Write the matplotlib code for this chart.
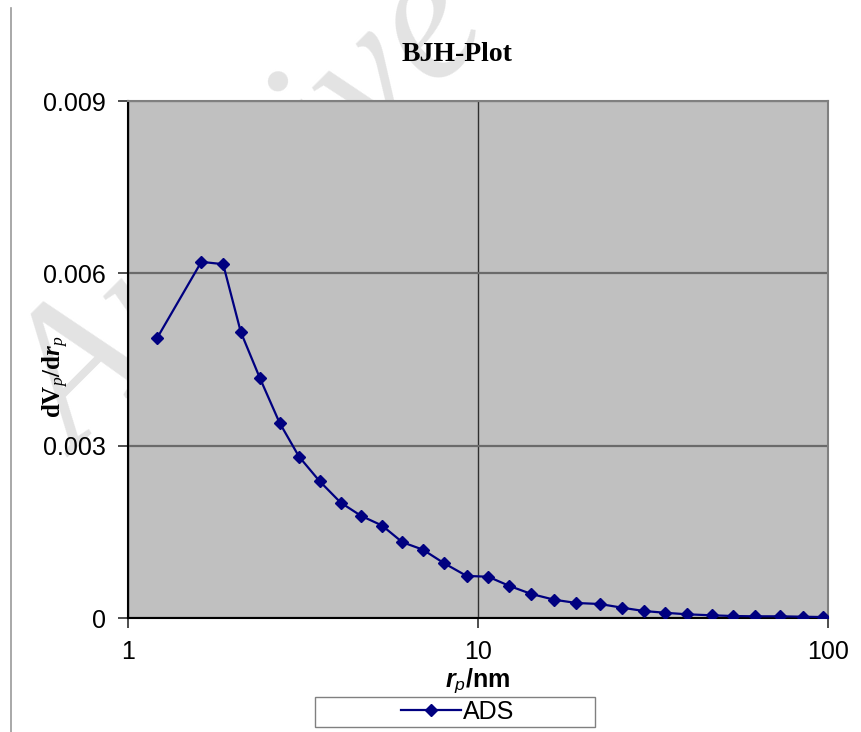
import matplotlib
matplotlib.use("Agg")
import matplotlib.pyplot as plt
from matplotlib.lines import Line2D
from matplotlib.patches import Rectangle
import matplotlib.ticker as mticker

# ── Data ────────────────────────────────────────────────────────────────────
r_p = [1.21, 1.62, 1.87, 2.10, 2.38, 2.71, 3.08, 3.53, 4.05, 4.63, 5.32,
       6.08, 6.96, 8.00, 9.28, 10.7, 12.3, 14.2, 16.5, 19.1, 22.3, 25.8,
       29.8, 34.2, 39.5, 46.6, 53.7, 61.7, 72.8, 84.8, 96.8]
dv_dr = [0.00487, 0.00620, 0.00616, 0.00498, 0.00418, 0.00340, 0.00281,
         0.00238, 0.00201, 0.00178, 0.00161, 0.00132, 0.00119, 0.000954,
         0.000733, 0.000719, 0.000558, 0.000419, 0.000319, 0.000262,
         0.000244, 0.000180, 0.000122, 0.000092, 0.000065, 0.000047,
         0.000035, 0.000030, 0.000030, 0.000023, 0.000017]
x_ticks = [1, 10, 100]
y_ticks = [0, 0.003, 0.006, 0.009]
y_tick_labels = ["0", "0.003", "0.006", "0.009"]
series_name = "ADS"

# serif slots for the y label, sans slots (sf/tt) for the x label
plt.rcParams.update({
    "font.family": ["Liberation Sans", "DejaVu Sans"],
    "mathtext.fontset": "custom",
    "mathtext.rm": "Liberation Serif",
    "mathtext.it": "Liberation Serif:italic",
    "mathtext.bf": "Liberation Serif:bold",
    "mathtext.bfit": "Liberation Serif:bold:italic",
    "mathtext.sf": "Liberation Sans:bold:italic",
    "mathtext.tt": "Liberation Sans:italic",
})

fig = plt.figure(figsize=(8.62, 7.32), dpi=100)
ax = fig.add_axes([0.1485, 0.1557, 0.812, 0.7063])

# faint watermark behind everything
fig.text(0.296, 0.706, "Archive", rotation=45, rotation_mode="anchor",
         ha="center", va="center", fontsize=139, fontstyle="italic",
         family="Liberation Serif", color="#e3e3e3", zorder=-5)

# page border line on the left
fig.add_artist(Line2D([0.0128, 0.0128], [0.0, 0.989], color="#9a9a9a", lw=1.2))

ax.set_facecolor("#c0c0c0")
ax.plot(r_p, dv_dr, color="#000080", lw=1.6, marker="D", markersize=6.5,
        markeredgewidth=1, label=series_name, zorder=3)

ax.set_xscale("log")
ax.set_xlim(1, 100)
ax.set_ylim(0, 0.009)
ax.xaxis.set_major_locator(mticker.FixedLocator(x_ticks))
ax.xaxis.set_major_formatter(mticker.FixedFormatter([str(v) for v in x_ticks]))
ax.xaxis.set_minor_locator(mticker.NullLocator())
ax.yaxis.set_major_locator(mticker.FixedLocator(y_ticks))
ax.yaxis.set_major_formatter(mticker.FixedFormatter(y_tick_labels))

ax.xaxis.grid(True, color="#303030", lw=1.0)
ax.yaxis.grid(True, color="#6a6a6a", lw=1.6)
ax.set_axisbelow(True)
ax.tick_params(axis="both", direction="out", length=7, width=1.2,
               labelsize=18, pad=9, color="#303030")

for side in ["left", "bottom"]:
    ax.spines[side].set_color("black")
    ax.spines[side].set_linewidth(1.5)
for side in ["top", "right"]:
    ax.spines[side].set_color("#808080")
    ax.spines[side].set_linewidth(1.5)

ax.set_title("BJH-Plot", family="Liberation Serif", fontweight="bold",
             fontsize=20, pad=29, x=0.47)
ax.set_ylabel(r"dV$_{\mathit{p}}$/d$\mathbfit{r}_{\mathit{p}}$",
              family="Liberation Serif", fontweight="bold", fontsize=18)
ax.yaxis.set_label_coords(-0.082, 0.466)
ax.set_xlabel(r"$\mathsf{r}_{\mathtt{p}}$/nm", fontsize=18,
              fontweight="bold", labelpad=2)

# legend below the plot, in a wide box
fig.add_artist(Rectangle((0.3654, 0.007), 0.3248, 0.041,
                         transform=fig.transFigure, facecolor="white",
                         edgecolor="#808080", lw=1.0))
fig.legend(loc="center", bbox_to_anchor=(0.531, 0.0275), frameon=False,
           fontsize=18, handlelength=2.4, handletextpad=0.1)

fig.savefig("out.png", dpi=100)
